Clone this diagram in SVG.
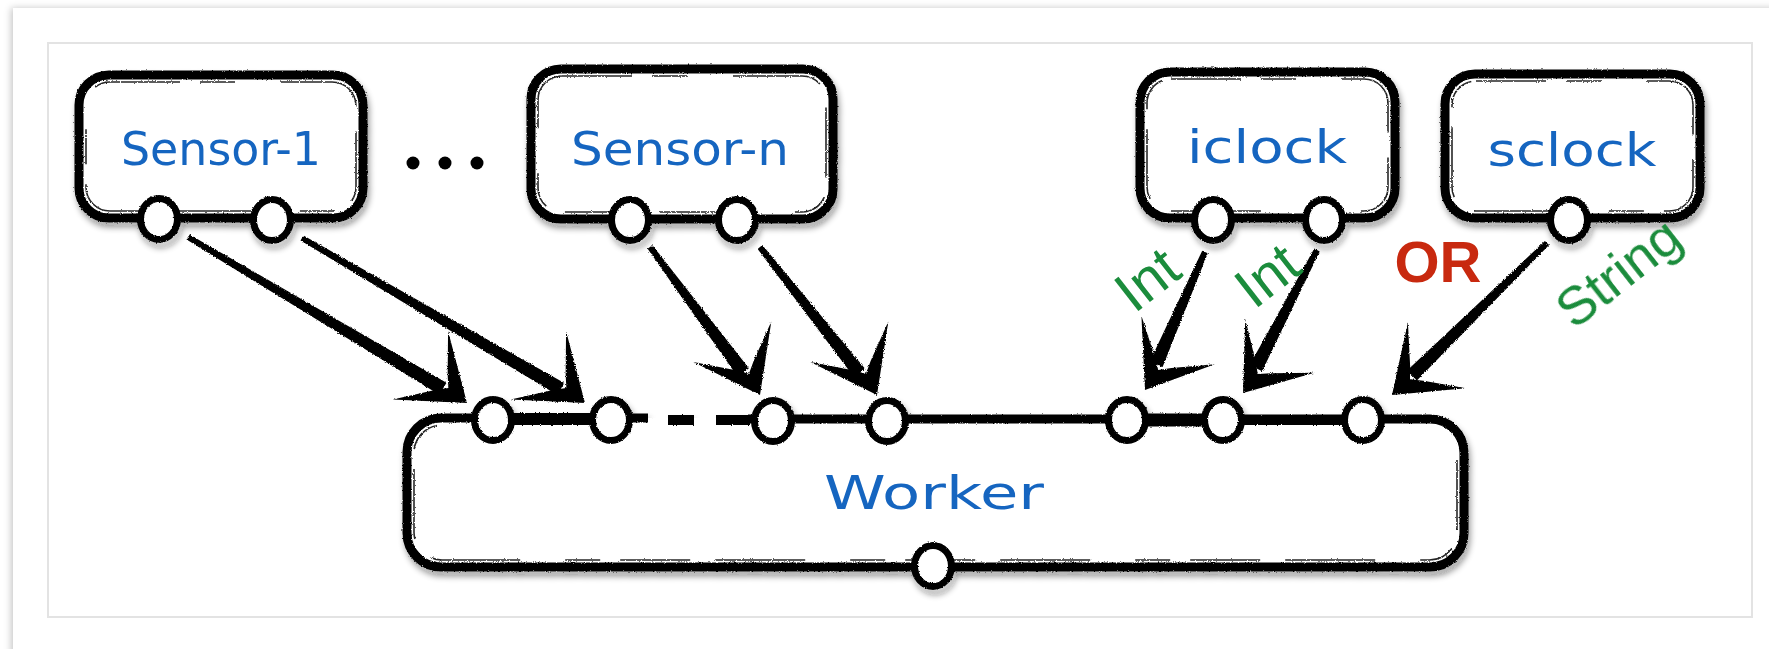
<svg xmlns="http://www.w3.org/2000/svg" xmlns:xlink="http://www.w3.org/1999/xlink" width="1769" height="649" viewBox="0 0 1769 649">
  <style>
    .outline { fill: none; stroke: #000; stroke-width: 9; stroke-linejoin: round; }
    .inner { fill: none; stroke: #000; stroke-width: 1.6; stroke-dasharray: 70 20 35 45 90 25; opacity: 0.85; }
    .body { fill: #fff; }
    .port { fill: #fff; stroke: #000; stroke-width: 7; }
    .name { font-family: "DejaVu Sans", "Liberation Sans", sans-serif; font-size: 47px; fill: #1565c0; text-anchor: middle; }
    .type { font-family: "Liberation Sans", Arial, sans-serif; font-size: 57px; fill: #1b8c3c; text-anchor: middle; }
    .or { font-family: "Liberation Sans", Arial, sans-serif; font-size: 58px; font-weight: bold; fill: #c8290f; text-anchor: middle; }
    .shaft, .head { fill: #000; }
  </style>
  <defs>
    <filter id="shadow" x="-10%" y="-20%" width="120%" height="150%">
      <feTurbulence type="fractalNoise" baseFrequency="0.8" numOctaves="2" seed="3" result="noise"/>
      <feDisplacementMap in="SourceGraphic" in2="noise" scale="2.5" xChannelSelector="R" yChannelSelector="G" result="rough"/>
      <feGaussianBlur in="rough" stdDeviation="3" result="blur"/>
      <feOffset in="blur" dx="2" dy="5" result="off"/>
      <feComponentTransfer in="off" result="soft">
        <feFuncA type="linear" slope="0.4"/>
      </feComponentTransfer>
      <feMerge>
        <feMergeNode in="soft"/>
        <feMergeNode in="rough"/>
      </feMerge>
    </filter>
    <filter id="rough" x="-5%" y="-5%" width="110%" height="110%">
      <feTurbulence type="fractalNoise" baseFrequency="0.9" numOctaves="2" seed="7" result="noise"/>
      <feDisplacementMap in="SourceGraphic" in2="noise" scale="3" xChannelSelector="R" yChannelSelector="G"/>
    </filter>
    <filter id="card" x="-2%" y="-3%" width="104%" height="106%">
      <feDropShadow dx="-2" dy="0" stdDeviation="3.5" flood-color="#000" flood-opacity="0.22"/>
    </filter>
    <path id="head" d="M0,0 L-60,-44 L-33,-10 L-24,0 L-33,10 L-60,44 Z"/>
  </defs>

  <!-- page -->
  <rect x="0" y="0" width="1769" height="649" fill="#fff"/>
  <rect x="13" y="8" width="1780" height="660" fill="#fff" filter="url(#card)"/>
  <rect x="48" y="43" width="1704" height="574" fill="#fff" stroke="#e3e3e3" stroke-width="2"/>

  <!-- connectors -->
  <g id="connectors" filter="url(#rough)">
    <polygon class="shaft" points="186.5,239.6 189.5,234.4 446.5,382.7 439.3,394.7"/>
    <use href="#head" class="head" transform="translate(467,403) rotate(39)"/>

    <polygon class="shaft" points="300.5,240.6 303.5,235.4 564.3,382.9 557.3,394.9"/>
    <use href="#head" class="head" transform="translate(585,403) rotate(39)"/>

    <polygon class="shaft" points="647.6,248.8 652.4,245.2 748.9,368.3 737.7,376.7"/>
    <use href="#head" class="head" transform="translate(760,395) rotate(62.5)"/>

    <polygon class="shaft" points="757.6,248.9 762.4,245.1 865.1,368.7 854.1,377.3"/>
    <use href="#head" class="head" transform="translate(877,395) rotate(62.5)"/>

    <polygon class="shaft" points="1202.2,250.8 1207.8,253.2 1162.6,367.1 1149.8,361.5"/>
    <use href="#head" class="head" transform="translate(1145,390) rotate(123.5)"/>

    <polygon class="shaft" points="1314.3,248.6 1319.7,251.4 1262.1,371.3 1249.7,364.9"/>
    <use href="#head" class="head" transform="translate(1243,393) rotate(128)"/>

    <polygon class="shaft" points="1544.9,240.9 1549.1,245.1 1416.9,380.4 1407.1,370.4"/>
    <use href="#head" class="head" transform="translate(1392,395) rotate(138.6)"/>
  </g>

  <!-- Sensor-1 -->
  <g id="node-sensor-1">
    <g filter="url(#shadow)">
      <rect class="body" x="79" y="75" width="284" height="143" rx="30"/>
      <rect class="outline" x="79" y="75" width="284" height="143" rx="30"/>
      <rect class="inner" x="86" y="82" width="270" height="129" rx="24"/>
      <ellipse class="port" cx="159" cy="219" rx="18.5" ry="20.5"/>
      <ellipse class="port" cx="272" cy="220" rx="18.5" ry="20.5"/>
    </g>
    <text class="name" x="221" y="165" textLength="200" lengthAdjust="spacingAndGlyphs">Sensor-1</text>
  </g>

  <!-- ellipsis between the sensors -->
  <g id="ellipsis" fill="#000">
    <circle cx="413" cy="163" r="6.5"/>
    <circle cx="445" cy="163" r="6.5"/>
    <circle cx="477" cy="163" r="6.5"/>
  </g>

  <!-- Sensor-n -->
  <g id="node-sensor-n">
    <g filter="url(#shadow)">
      <rect class="body" x="531" y="69" width="302" height="150" rx="30"/>
      <rect class="outline" x="531" y="69" width="302" height="150" rx="30"/>
      <rect class="inner" x="538" y="76" width="288" height="136" rx="24"/>
      <ellipse class="port" cx="630" cy="220" rx="18.5" ry="20.5"/>
      <ellipse class="port" cx="737" cy="220" rx="18.5" ry="20.5"/>
    </g>
    <text class="name" x="680" y="165" textLength="218" lengthAdjust="spacingAndGlyphs">Sensor-n</text>
  </g>

  <!-- iclock -->
  <g id="node-iclock">
    <g filter="url(#shadow)">
      <rect class="body" x="1140" y="72" width="255" height="146" rx="30"/>
      <rect class="outline" x="1140" y="72" width="255" height="146" rx="30"/>
      <rect class="inner" x="1147" y="79" width="241" height="132" rx="24"/>
      <ellipse class="port" cx="1213" cy="220" rx="18.5" ry="20.5"/>
      <ellipse class="port" cx="1324" cy="220" rx="18.5" ry="20.5"/>
    </g>
    <text class="name" x="1267" y="163" textLength="160" lengthAdjust="spacingAndGlyphs">iclock</text>
  </g>

  <!-- sclock -->
  <g id="node-sclock">
    <g filter="url(#shadow)">
      <rect class="body" x="1445" y="74" width="255" height="144" rx="30"/>
      <rect class="outline" x="1445" y="74" width="255" height="144" rx="30"/>
      <rect class="inner" x="1452" y="81" width="241" height="130" rx="24"/>
      <ellipse class="port" cx="1569" cy="220" rx="18.5" ry="20.5"/>
    </g>
    <text class="name" x="1572" y="166" textLength="169" lengthAdjust="spacingAndGlyphs">sclock</text>
  </g>

  <!-- Worker -->
  <g id="node-worker">
    <g filter="url(#shadow)">
      <rect class="body" x="407" y="418" width="1057" height="149" rx="34"/>
      <path class="outline" d="M748,419 L1430,419 A34,34 0 0 1 1464,453 L1464,533 A34,34 0 0 1 1430,567 L441,567 A34,34 0 0 1 407,533 L407,452 A34,34 0 0 1 441,418 L648,418"/>
      <path class="inner" d="M1457,460 L1457,528 A28,28 0 0 1 1429,560 L443,560 A28,28 0 0 1 414,532 L414,455 A28,28 0 0 1 442,425"/>
      <g stroke="#000" stroke-linecap="butt" fill="none">
        <line x1="493" y1="419" x2="613" y2="419" stroke-width="12"/>
        <line x1="668" y1="420" x2="694" y2="420" stroke-width="10"/>
        <line x1="716" y1="420" x2="750" y2="420" stroke-width="10"/>
        <line x1="1127" y1="420" x2="1223" y2="420" stroke-width="13"/>
        <line x1="1223" y1="420" x2="1363" y2="420" stroke-width="10"/>
      </g>
      <ellipse class="port" cx="493" cy="420" rx="18.5" ry="20.5"/>
      <ellipse class="port" cx="611" cy="420" rx="18.5" ry="20.5"/>
      <ellipse class="port" cx="773" cy="421" rx="18.5" ry="20.5"/>
      <ellipse class="port" cx="887" cy="421" rx="18.5" ry="20.5"/>
      <ellipse class="port" cx="1127" cy="420" rx="18.5" ry="20.5"/>
      <ellipse class="port" cx="1223" cy="420" rx="18.5" ry="20.5"/>
      <ellipse class="port" cx="1363" cy="420" rx="18.5" ry="20.5"/>
      <ellipse class="port" cx="933" cy="566" rx="18.5" ry="20.5"/>
    </g>
    <text class="name" x="934" y="509" textLength="220" lengthAdjust="spacingAndGlyphs">Worker</text>
  </g>

  <!-- message type labels -->
  <g id="labels">
    <text class="type" transform="translate(1147,279) rotate(-38)" x="0" y="20">Int</text>
    <text class="type" transform="translate(1267,275) rotate(-38)" x="0" y="20">Int</text>
    <text class="or" x="1438" y="282">OR</text>
    <text class="type" transform="translate(1621,276) rotate(-38)" x="0" y="14" style="font-size:54px">String</text>
  </g>
</svg>
